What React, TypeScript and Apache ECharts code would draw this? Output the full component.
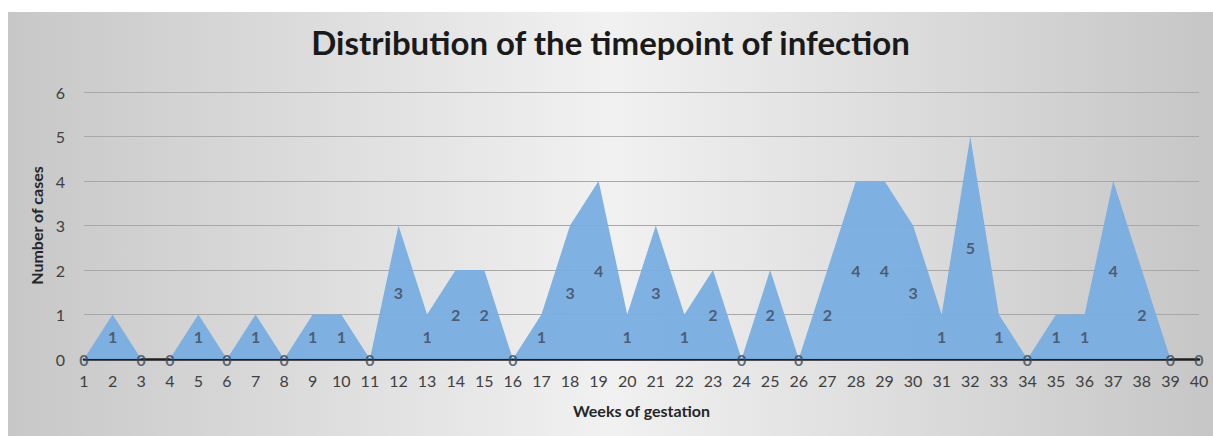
import React, { useEffect, useRef } from "react";
import * as echarts from "echarts";

const weeks = Array.from({ length: 40 }, (_, i) => String(i + 1));
const cases = [0, 1, 0, 0, 1, 0, 1, 0, 1, 1, 0, 3, 1, 2, 2, 0, 1, 3, 4, 1, 3, 1, 2, 0, 2, 0, 2, 4, 4, 3, 1, 5, 1, 0, 1, 1, 4, 2, 0, 0];
const yTicks = [0, 1, 2, 3, 4, 5, 6];

const FONT = "Lato, 'Open Sans', sans-serif";

export default function App() {
  const ref = useRef<HTMLDivElement>(null);
  useEffect(() => {
    if (!ref.current) return;
    const chart = echarts.init(ref.current, undefined, { renderer: "svg" });
    chart.setOption({
      animation: false,
      backgroundColor: {
        type: "linear",
        x: 0,
        y: 0,
        x2: 1,
        y2: 0,
        colorStops: [
          { offset: 0, color: "#c7c7c7" },
          { offset: 0.5, color: "#f1f1f1" },
          { offset: 1, color: "#c6c6c6" },
        ],
      },
      textStyle: { fontFamily: FONT },
      title: {
        text: "Distribution of the timepoint of infection",
        left: "center",
        top: 8,
        textStyle: { fontFamily: FONT, fontSize: 33, fontWeight: "bold", color: "#1a1a1a" },
      },
      grid: { left: 76, right: 14, top: 80, bottom: 77 },
      xAxis: {
        type: "category",
        data: weeks,
        boundaryGap: false,
        name: "Weeks of gestation",
        nameLocation: "middle",
        nameGap: 43,
        nameTextStyle: { fontFamily: FONT, fontSize: 16, fontWeight: "bold", color: "#262626" },
        axisLine: { show: true, lineStyle: { color: "#1f1f1f", width: 2.5 } },
        axisTick: { show: false },
        axisLabel: { interval: 0, fontFamily: FONT, fontSize: 16, color: "#404040", margin: 13 },
        splitLine: { show: false },
      },
      yAxis: {
        type: "value",
        min: yTicks[0],
        max: yTicks[yTicks.length - 1],
        interval: 1,
        name: "Number of cases",
        nameLocation: "middle",
        nameGap: 32,
        nameRotate: 90,
        nameTextStyle: { fontFamily: FONT, fontSize: 16, fontWeight: "bold", color: "#262626" },
        axisLine: { show: false },
        axisTick: { show: false },
        axisLabel: { fontFamily: FONT, fontSize: 16, color: "#404040", margin: 19 },
        splitLine: { show: true, lineStyle: { color: "#a8a8a8", width: 1.2 } },
      },
      series: [
        {
          type: "line",
          data: cases,
          symbol: "none",
          lineStyle: { width: 0 },
          areaStyle: { color: "#78ade0", opacity: 0.95 },
          z: 2,
        },
        {
          type: "scatter",
          data: cases.map((v) => v / 2),
          symbolSize: 1,
          itemStyle: { color: "rgba(0,0,0,0)" },
          label: {
            show: true,
            position: "inside",
            formatter: (p: any) => String(cases[p.dataIndex]),
            fontFamily: FONT,
            fontSize: 16,
            fontWeight: "bold",
            color: "#3d4858",
          },
          z: 3,
        },
      ],
    });
    return () => chart.dispose();
  }, []);
  return (
    <div
      ref={ref}
      style={{ position: "absolute", left: 8, top: 12, width: 1205, height: 424 }}
    />
  );
}
